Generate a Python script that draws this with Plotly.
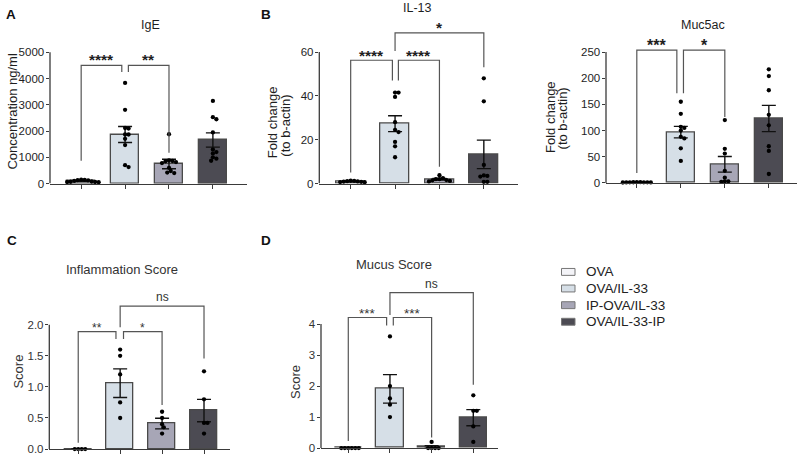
import plotly.graph_objects as go

W, H = 800, 461

groups = ["OVA", "OVA/IL-33", "IP-OVA/IL-33", "OVA/IL-33-IP"]
bar_colors = ["#f4f4f8", "#d6dfe7", "#a7a6b6", "#4c4b53"]

# ---------------- data ----------------
ige_mean = [95, 1870, 745, 1660]
ige_sem = [15, 305, 180, 270]
ige_points = [
    [60, 120, 140, 100, 150, 80, 130, 60, 70, 50],
    [3835, 2810, 2117, 2094, 1869, 1869, 1703, 1466, 628, 703],
    [1880, 880, 860, 780, 850, 820, 600, 400, 480, 420],
    [3150, 2450, 2530, 1950, 1300, 1200, 1150, 1000, 950, 870],
]
ige_ticks = [0, 1000, 2000, 3000, 4000, 5000]
ige_sig = ["****", "**"]

il13_mean = [1.0, 27.3, 2.0, 13.3]
il13_sem = [0.15, 3.6, 0.35, 6.5]
il13_points = [
    [0.8, 1.2, 1.0, 0.6, 1.3, 0.9, 1.1, 0.7],
    [41.5, 41.5, 39.5, 28, 24.5, 23.5, 19, 17, 12],
    [1.0, 1.5, 2.0, 2.5, 3.8, 2.0, 1.2, 1.6],
    [48, 37.5, 8.5, 3.5, 3.2, 3.7, 0.8, 0.8],
]
il13_ticks = [0, 20, 40, 60]
il13_sig = ["****", "****", "*"]

muc_mean = [1.0, 97, 35.5, 123]
muc_sem = [0.2, 11, 15, 25]
muc_points = [
    [1.5, 1.0, 0.8, 1.2, 1.0, 0.7, 1.3, 0.9, 1.1],
    [155, 132, 107, 105, 100, 88, 85, 66, 42],
    [120, 65, 56, 23, 10, 3, 2, 3],
    [217, 204, 177, 130, 110, 70, 61, 17],
]
muc_ticks = [0, 50, 100, 150, 200, 250]
muc_sig = ["***", "*"]

infl_mean = [0, 1.06, 0.41, 0.62]
infl_sem = [0, 0.23, 0.085, 0.18]
infl_points = [
    [0, 0, 0, 0],
    [1.6, 1.5, 1.2, 0.75, 0.5],
    [0.6, 0.5, 0.4, 0.35, 0.25],
    [1.25, 0.8, 0.42, 0.42, 0.25],
]
infl_ticks = [0, 0.5, 1.0, 1.5, 2.0]
infl_sig = ["**", "*", "ns"]

mucus_mean = [0, 1.91, 0.04, 0.98]
mucus_sem = [0, 0.46, 0.04, 0.26]
mucus_points = [
    [0, 0, 0, 0, 0, 0],
    [3.6, 2.0, 1.6, 1.4, 1.0],
    [0.2, 0, 0, 0, 0],
    [1.7, 1.2, 1.2, 0.7, 0.2],
]
mucus_ticks = [0, 1, 2, 3, 4]
mucus_sig = ["***", "***", "ns"]

# ---------------- layout geometry (pixels) ----------------
panels = [
    dict(letter="A", letter_xy=(11, 15), title="IgE", title_xy=(150, 25), title_size=12.5,
         mean=ige_mean, sem=ige_sem, pts=ige_points, ticks=ige_ticks, sig=ige_sig, fmt="d",
         px_x=(50, 246.7), cat=(-0.71, 3.77), y0=186, ytop_px=53,
         ylab=[("Concentration ng/ml", 12.5, 113.5)],
         brackets=[(0, 0.925, 4500, 870, 4250), (1.075, 2, 4500, 4250, 1170)],
         sig_size=15.5, sig_bold=True, sig_shift=[6, 6], text_col="#1e1e1e"),
    dict(letter="B", letter_xy=(266, 15), title="IL-13", title_xy=(417, 8), title_size=12.5,
         mean=il13_mean, sem=il13_sem, pts=il13_points, ticks=il13_ticks, sig=il13_sig, fmt="d",
         px_x=(319.3, 518), cat=(-0.707, 3.77), y0=186, ytop_px=52.7,
         ylab=[("Fold change", 272.8, 124), ("(to b-actin)", 285.3, 127)],
         brackets=[(0, 0.94, 56.25, 5, 47), (1.075, 2, 56.25, 47, 7.7), (1, 3, 68.7, 60.5, 53)],
         sig_size=15.5, sig_bold=True, sig_shift=[5, 5, 5], text_col="#1e1e1e"),
    dict(letter="", letter_xy=(0, 0), title="Muc5ac", title_xy=(703, 25), title_size=12.5,
         mean=muc_mean, sem=muc_sem, pts=muc_points, ticks=muc_ticks, sig=muc_sig, fmt="d",
         px_x=(606, 797), cat=(-0.70, 3.64), y0=185.3, ytop_px=52.7,
         ylab=[("Fold change", 550.5, 119), ("(to b-actin)", 562, 120)],
         brackets=[(0, 0.91, 253.6, 19, 171), (1.06, 2, 253.6, 171, 126)],
         sig_size=16, sig_bold=True, sig_shift=[5, 5], text_col="#1e1e1e"),
    dict(letter="C", letter_xy=(12, 244), title="Inflammation Score", title_xy=(121.7, 272.7), title_size=13,
         mean=infl_mean, sem=infl_sem, pts=infl_points, ticks=infl_ticks, sig=infl_sig, fmt=".1f",
         px_x=(49.3, 230), cat=(-0.69, 3.62), y0=455, ytop_px=329,
         ylab=[("Score", 18.5, 377)],
         brackets=[(0, 0.9, 1.89, 0.1, 1.77), (1.08, 2, 1.89, 1.77, 0.71), (1, 3, 2.30, 1.96, 1.455)],
         sig_size=12, sig_bold=False, sig_shift=[4, 4, 9], text_col="#333333"),
    dict(letter="D", letter_xy=(266, 244), title="Mucus Score", title_xy=(394.3, 268.3), title_size=13,
         mean=mucus_mean, sem=mucus_sem, pts=mucus_points, ticks=mucus_ticks, sig=mucus_sig, fmt="d",
         px_x=(321, 498.3), cat=(-0.655, 3.6), y0=454, ytop_px=328.3,
         ylab=[("Score", 296, 387)],
         brackets=[(0, 0.92, 4.21, 0.23, 3.95), (1.08, 2, 4.21, 3.95, 0.34), (1, 3, 5.01, 4.29, 2.04)],
         sig_size=13.5, sig_bold=False, sig_shift=[4, 4, 9], text_col="#333333"),
]

FONT = "Liberation Sans, Arial, sans-serif"
AXIS_COL = "#3a3a3a"
BRACKET_COL = "#555555"
HEAD = 45  # extra headroom in px above top tick


def px2x(px):
    return px / W


def px2y(py):
    return 1 - py / H


def swarm_offsets(vals, px_per_unit, px_per_cat, d=3.5):
    cands = [0.0]
    for m in range(1, 40):
        cands += [m * d / 2, -m * d / 2]
    placed = []
    offs = [0.0] * len(vals)
    for k in sorted(range(len(vals)), key=lambda i: -vals[i]):
        yp = vals[k] * px_per_unit
        xo = 0.0
        for xo in cands:
            if all((xo - a) ** 2 + (yp - b) ** 2 >= d * d * 0.98 for a, b in placed):
                break
        placed.append((xo, yp))
        offs[k] = xo / px_per_cat
    return offs


fig = go.Figure()
shapes = []
annotations = []
layout_axes = {}

for n, p in enumerate(panels, start=1):
    xs = "x" if n == 1 else f"x{n}"
    ys = "y" if n == 1 else f"y{n}"
    xkey = "xaxis" if n == 1 else f"xaxis{n}"
    ykey = "yaxis" if n == 1 else f"yaxis{n}"

    ytop = p["ticks"][-1]
    px_per_unit = (p["y0"] - p["ytop_px"]) / ytop
    dom_top_px = p["ytop_px"] - HEAD
    ymax = (p["y0"] - dom_top_px) / px_per_unit
    px_per_cat = (p["px_x"][1] - p["px_x"][0]) / (p["cat"][1] - p["cat"][0])

    cats = list(range(len(groups)))
    fig.add_trace(go.Bar(
        x=cats, y=p["mean"], width=0.65,
        marker=dict(color=bar_colors, line=dict(color="#4a4a4a", width=1.3)),
        error_y=dict(type="data", array=p["sem"], visible=True, color="#111111",
                     thickness=1.4, width=7),
        xaxis=xs, yaxis=ys, showlegend=False, hoverinfo="skip",
    ))

    dx, dy = [], []
    for i, vals in enumerate(p["pts"]):
        offs = swarm_offsets(vals, px_per_unit, px_per_cat)
        dx += [i + o for o in offs]
        dy += vals
    fig.add_trace(go.Scatter(
        x=dx, y=dy, mode="markers", marker=dict(size=4.3, color="#000000"),
        xaxis=xs, yaxis=ys, showlegend=False, cliponaxis=False, hoverinfo="skip",
    ))

    layout_axes[xkey] = dict(
        domain=[px2x(p["px_x"][0]), px2x(p["px_x"][1])], range=list(p["cat"]),
        anchor=ys, showline=True, linecolor=AXIS_COL, linewidth=1.3,
        ticks="outside", tickvals=cats, ticklen=4, tickwidth=1.3, tickcolor=AXIS_COL,
        showticklabels=False, showgrid=False, zeroline=False, fixedrange=True,
    )
    layout_axes[ykey] = dict(
        domain=[px2y(p["y0"]), px2y(dom_top_px)], range=[0, ymax],
        anchor=xs, showline=False, ticks="outside", tickvals=p["ticks"],
        tickformat=p["fmt"], ticklen=3.5, tickwidth=1.3, tickcolor=AXIS_COL,
        ticklabelstandoff=-1,
        tickfont=dict(family=FONT, size=11.5, color=p["text_col"]),
        showgrid=False, zeroline=False, fixedrange=True,
    )
    # y axis line from 0 to top tick
    shapes.append(dict(type="line", xref=f"{xs} domain", yref=ys, x0=0, x1=0, y0=0, y1=ytop,
                       line=dict(color=AXIS_COL, width=1.3)))

    # significance brackets
    for (xl, xr, lev, yl, yr), lab, sh in zip(p["brackets"], p["sig"], p["sig_shift"]):
        path = f"M{xl},{yl} L{xl},{lev} L{xr},{lev} L{xr},{yr}"
        shapes.append(dict(type="path", xref=xs, yref=ys, path=path,
                           line=dict(color=BRACKET_COL, width=1.2)))
        is_ns = lab == "ns"
        txt = f"<b>{lab}</b>" if (p["sig_bold"] and not is_ns) else lab
        annotations.append(dict(x=(xl + xr) / 2, y=lev, xref=xs, yref=ys, text=txt,
                                showarrow=False, xanchor="center", yanchor="middle", yshift=sh,
                                font=dict(family=FONT, size=12 if is_ns else p["sig_size"],
                                          color=p["text_col"])))

    # title
    tx, ty = p["title_xy"]
    annotations.append(dict(x=px2x(tx), y=px2y(ty), xref="paper", yref="paper", text=p["title"],
                            showarrow=False, xanchor="center", yanchor="middle",
                            font=dict(family=FONT, size=p["title_size"], color=p["text_col"])))
    # y label(s)
    for txt, lx, ly in p["ylab"]:
        annotations.append(dict(x=px2x(lx), y=px2y(ly), xref="paper", yref="paper", text=txt,
                                showarrow=False, textangle=-90, xanchor="center", yanchor="middle",
                                font=dict(family=FONT, size=13, color=p["text_col"])))
    # panel letter
    if p["letter"]:
        lx, ly = p["letter_xy"]
        annotations.append(dict(x=px2x(lx), y=px2y(ly), xref="paper", yref="paper",
                                text=f"<b>{p['letter']}</b>", showarrow=False,
                                xanchor="center", yanchor="middle",
                                font=dict(family=FONT, size=13.5, color="#111111")))

# legend (manual)
leg_rows = [275.5, 292.3, 309.2, 326]
for g, c, ry in zip(groups, bar_colors, leg_rows):
    shapes.append(dict(type="rect", xref="paper", yref="paper",
                       x0=px2x(561.5), x1=px2x(575), y0=px2y(ry + 3.5), y1=px2y(ry - 3.5),
                       fillcolor=c, line=dict(color="#777777", width=1)))
    annotations.append(dict(x=px2x(584), y=px2y(ry), xref="paper", yref="paper", text=g,
                            showarrow=False, xanchor="left", yanchor="middle",
                            font=dict(family=FONT, size=13.5, color="#222222")))

fig.update_layout(
    width=W, height=H, margin=dict(l=0, r=0, t=0, b=0),
    paper_bgcolor="white", plot_bgcolor="white", showlegend=False,
    bargap=0, shapes=shapes, annotations=annotations, **layout_axes,
)

fig.write_html("out.html")
